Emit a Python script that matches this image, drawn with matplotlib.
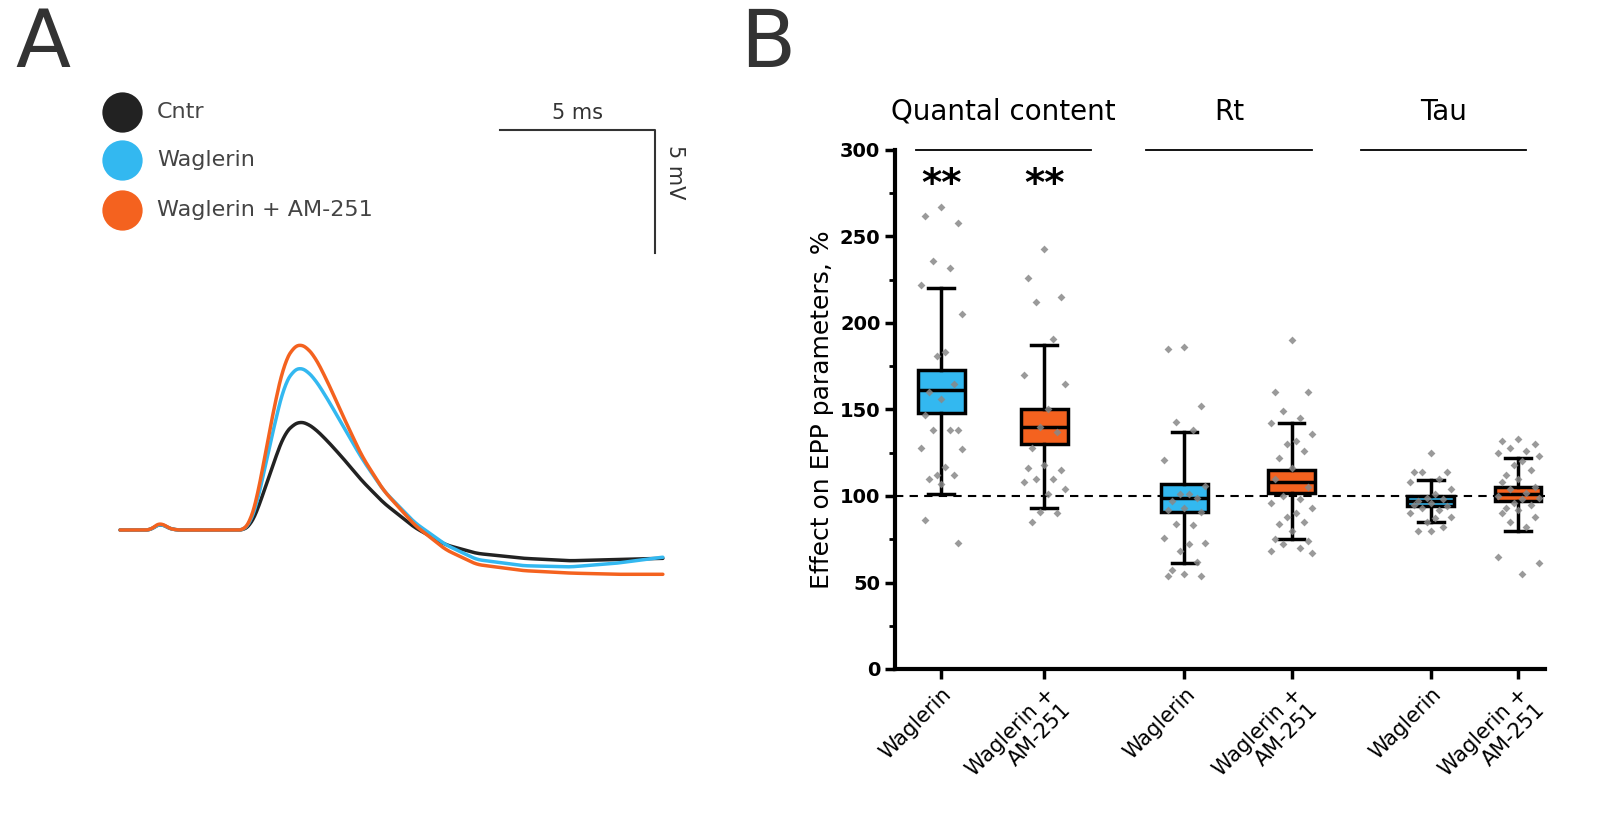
import matplotlib
matplotlib.use("Agg")
import matplotlib.pyplot as plt
import numpy as np

# ---- Panel A traces (time ms, voltage mV)
t_pts = [0, 1.0, 1.3, 1.5, 1.8, 2.2, 3, 4, 4.2, 4.4, 4.7, 5.0, 5.3, 5.6, 5.8, 6.0, 6.3, 6.7, 7.2, 7.8, 8.5, 9.5, 10.5, 11.5, 13, 14.5, 16, 17.5]
cntr = [0, 0, 0.3, 0.1, 0, 0, 0, 0, 0.2, 0.7, 1.8, 2.9, 3.9, 4.3, 4.4, 4.35, 4.1, 3.6, 2.9, 2.0, 1.1, 0.1, -0.6, -0.95, -1.15, -1.25, -1.2, -1.15]
wag = [0, 0, 0.3, 0.1, 0, 0, 0, 0, 0.3, 1.0, 2.7, 4.4, 5.9, 6.5, 6.6, 6.5, 6.1, 5.3, 4.2, 2.9, 1.6, 0.3, -0.6, -1.2, -1.45, -1.5, -1.35, -1.1]
wag_am = [0, 0, 0.35, 0.1, 0, 0, 0, 0, 0.35, 1.2, 3.2, 5.2, 6.8, 7.45, 7.55, 7.45, 7.0, 6.0, 4.6, 3.0, 1.6, 0.2, -0.8, -1.4, -1.65, -1.75, -1.8, -1.8]
legend_labels = ["Cntr", "Waglerin", "Waglerin + AM-251"]
trace_colors = ["#222222", "#33b8f0", "#f4621f"]

# ---- Panel B
positions = [0, 1, 2.36, 3.4, 4.75, 5.6]
box_colors = ["#33b8f0", "#f4621f"] * 3
stats = [  # (whislo, q1, med, q3, whishi)
    (101, 148, 161, 173, 220),
    (93, 130, 140, 150, 187),
    (61, 91, 99, 107, 137),
    (75, 102, 108, 115, 142),
    (85, 94, 97, 100, 109),
    (80, 97, 101, 105, 122),
]
points = [
    [267, 262, 258, 236, 232, 222, 205, 183, 181, 165, 160, 156, 147, 138, 138, 138, 128, 127, 117, 112, 112, 110, 107, 86, 73],
    [243, 226, 215, 212, 191, 170, 165, 150, 140, 137, 128, 118, 116, 115, 110, 110, 108, 104, 101, 91, 90, 85],
    [186, 185, 152, 143, 138, 121, 106, 101, 101, 99, 97, 93, 92, 91, 84, 83, 76, 73, 72, 68, 62, 57, 55, 54, 54],
    [190, 160, 160, 149, 145, 142, 136, 132, 130, 126, 122, 116, 110, 105, 100, 98, 96, 93, 90, 88, 85, 84, 80, 75, 74, 72, 70, 68, 67],
    [125, 114, 114, 114, 110, 108, 104, 101, 99, 98, 97, 96, 95, 94, 93, 92, 90, 88, 87, 85, 82, 80, 80],
    [133, 132, 130, 128, 126, 125, 123, 120, 118, 115, 112, 110, 108, 105, 104, 102, 100, 99, 98, 96, 95, 93, 92, 90, 88, 85, 82, 65, 61, 55],
]
jitter = [0, -0.2, 0.2, -0.1, 0.1, -0.25, 0.25, 0.05, -0.05, 0.15, -0.15]
xlabels = ["Waglerin", "Waglerin +\nAM-251"] * 3
groups = ["Quantal content", "Rt", "Tau"]

fig = plt.figure(figsize=(16, 8.27), dpi=100)
W, H = 1600, 827

# Panel A
axA = fig.add_axes([0, 0, 880 / W, 1])
axA.set_xlim(-3.87, 24.5)
axA.set_ylim(-12.07, 21.54)
axA.axis("off")
tt = np.linspace(t_pts[0], t_pts[-1], 1200)
kern = np.ones(25) / 25
for y, c in zip([cntr, wag, wag_am], trace_colors):
    yy = np.interp(tt, t_pts, y)
    ys = np.convolve(np.pad(yy, 12, mode="edge"), kern, mode="valid")
    axA.plot(tt, ys, color=c, lw=2.5, solid_capstyle="round")
def px(x, y):
    return ((x - 120) / 31.0, (530 - y) / 24.6)
for i, (lab, c) in enumerate(zip(legend_labels, trace_colors)):
    yy = [112, 160, 210][i]
    cx, cy = px(122, yy)
    axA.plot(cx, cy, "o", ms=29, color=c, mec="none")
    tx, ty = px(157, yy)
    axA.text(tx, ty, lab, fontsize=16, color="#444444", va="center", ha="left")
x0, y0 = px(500, 130)
x1, _ = px(655, 130)
_, y1 = px(655, 253)
axA.plot([x0, x1, x1], [y0, y0, y1], color="#333333", lw=1.5)
axA.text((x0 + x1) / 2, y0 + 0.3, "5 ms", fontsize=15, ha="center", va="bottom", color="#333333")
axA.text(x1 + 0.3, (y0 + y1) / 2 + 0.8, "5 mV", fontsize=15, rotation=-90, ha="left", va="center", color="#333333")
fig.text(15 / W, 1 - 45 / H, "A", fontsize=58, va="center", ha="left", color="#333333")
fig.text(740 / W, 1 - 45 / H, "B", fontsize=58, va="center", ha="left", color="#333333")

# Panel B
axB = fig.add_axes([895 / W, 1 - 669 / H, (1545 - 895) / W, (669 - 150) / H])
axB.set_xlim(-0.45, 5.86)
axB.set_ylim(0, 300)
bxp_stats = [dict(whislo=s[0], q1=s[1], med=s[2], q3=s[3], whishi=s[4], fliers=[]) for s in stats]
bp = axB.bxp(bxp_stats, positions=positions, widths=0.45, patch_artist=True, showfliers=False,
             boxprops=dict(lw=2.5, edgecolor="black"), medianprops=dict(color="black", lw=2.5),
             whiskerprops=dict(lw=2.5), capprops=dict(lw=2.5), capwidths=0.25, zorder=2)
for patch, c in zip(bp["boxes"], box_colors):
    patch.set_facecolor(c)
for p, vals in zip(positions, points):
    xs = [p + jitter[i % len(jitter)] * 0.8 for i in range(len(vals))]
    axB.scatter(xs, vals, marker="D", s=16, color="#888888", alpha=0.85, zorder=3, lw=0)
axB.axhline(100, color="black", ls="--", lw=1.5, dashes=(4, 3), zorder=1)
for sp in ["top", "right"]:
    axB.spines[sp].set_visible(False)
for sp in ["left", "bottom"]:
    axB.spines[sp].set_linewidth(3)
axB.set_yticks([0, 50, 100, 150, 200, 250, 300])
axB.set_yticks(np.arange(0, 301, 25), minor=True)
axB.tick_params(axis="y", which="major", labelsize=14, width=2.5, length=7)
axB.tick_params(axis="y", which="minor", width=2, length=4)
for lab in axB.get_yticklabels():
    lab.set_fontweight("bold")
axB.set_xticks(positions)
axB.set_xticklabels(xlabels, rotation=45, ha="right", rotation_mode="anchor", fontsize=15)
axB.tick_params(axis="x", width=2.5, length=7)
axB.set_ylabel("Effect on EPP parameters, %", fontsize=18)
axB.text(0.0, 280, "**", fontsize=28, ha="center", va="center", fontweight="bold")
axB.text(1.0, 280, "**", fontsize=28, ha="center", va="center", fontweight="bold")
spans = [(-0.25, 1.45), (1.99, 3.6), (4.07, 5.68)]
for (a, b), g in zip(spans, groups):
    axB.plot([a, b], [300, 300], color="black", lw=1.3, clip_on=False)
    axB.text((a + b) / 2, 322, g, fontsize=20, ha="center", va="center")

fig.savefig("out.png", dpi=100)
